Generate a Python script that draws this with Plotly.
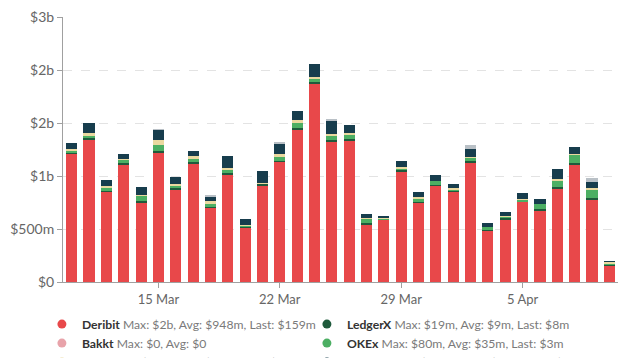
import plotly.graph_objects as go
import pandas as pd

dates = pd.date_range("2021-03-10", "2021-04-10", freq="D")

deribit = [1.208, 1.346, 0.852, 1.104, 0.748, 1.220, 0.874, 1.120, 0.704, 1.016,
           0.516, 0.915, 1.135, 1.434, 1.874, 1.330, 1.330, 0.544, 0.585, 1.040,
           0.748, 0.909, 0.852, 1.129, 0.484, 0.594, 0.758, 0.679, 0.884, 1.110,
           0.780, 0.159]
ledgerx = [0.010, 0.010, 0.008, 0.015, 0.015, 0.012, 0.010, 0.008, 0.008, 0.010,
           0.012, 0.012, 0.010, 0.015, 0.012, 0.010, 0.019, 0.008, 0.008, 0.018,
           0.008, 0.008, 0.008, 0.010, 0.008, 0.008, 0.006, 0.008, 0.010, 0.009,
           0.009, 0.008]
okex = [0.025, 0.025, 0.025, 0.035, 0.050, 0.065, 0.030, 0.040, 0.025, 0.032,
        0.004, 0.005, 0.035, 0.055, 0.035, 0.037, 0.044, 0.050, 0.008, 0.010,
        0.028, 0.036, 0.015, 0.035, 0.028, 0.020, 0.012, 0.050, 0.055, 0.080,
        0.079, 0.003]
cme = [0.015, 0.025, 0.020, 0.005, 0.005, 0.040, 0.012, 0.018, 0.028, 0.020,
       0.003, 0.003, 0.025, 0.020, 0.015, 0.022, 0.013, 0.003, 0.002, 0.013,
       0.016, 0.004, 0.010, 0.008, 0.002, 0.002, 0.008, 0.003, 0.025, 0.004,
       0.022, 0.019]
bitcom = [0.050, 0.094, 0.057, 0.050, 0.080, 0.100, 0.060, 0.050, 0.044, 0.107,
          0.063, 0.110, 0.100, 0.085, 0.116, 0.120, 0.075, 0.035, 0.019, 0.060,
          0.050, 0.057, 0.044, 0.072, 0.038, 0.038, 0.053, 0.047, 0.090, 0.066,
          0.057, 0.007]
other = [0, 0, 0, 0, 0, 0.005, 0, 0, 0.012, 0,
         0, 0, 0.012, 0, 0, 0.022, 0, 0, 0, 0,
         0, 0, 0, 0.038, 0, 0, 0, 0, 0, 0,
         0.030, 0]
bakkt = [0] * 32

series = [
    ("Deribit", deribit, "#e8484a", "Max: $2b, Avg: $948m, Last: $159m", 1),
    ("Bakkt", bakkt, "#e8a3aa", "Max: $0, Avg: $0", 3),
    ("LedgerX", ledgerx, "#1f5a3c", "Max: $19m, Avg: $9m, Last: $8m", 2),
    ("OKEx", okex, "#4caf63", "Max: $80m, Avg: $35m, Last: $3m", 4),
    ("CME", cme, "#ead9a0", "Max: $41m, Avg: $15m, Last: $19m", 5),
    ("bit.com", bitcom, "#173d4d", "Max: $120m, Avg: $64m, Last: $7m", 6),
]

ytickvals = [0, 0.5, 1.0, 1.5, 2.0, 2.5]
yticktext = ["$0", "$500m", "$1b", "$2b", "$2b", "$3b"]
xtickvals = ["2021-03-15", "2021-03-22", "2021-03-29", "2021-04-05"]

fig = go.Figure()
for name, vals, color, stats, rank in series:
    fig.add_trace(go.Bar(x=dates, y=vals, name=name, marker_color=color,
                         marker_line_width=0, showlegend=False))
fig.add_trace(go.Bar(x=dates, y=other, name="Other", marker_color="#b9c0c6",
                     marker_line_width=0, showlegend=False))

for name, vals, color, stats, rank in series:
    fig.add_trace(go.Scatter(
        x=[None], y=[None], mode="markers",
        marker=dict(symbol="circle", size=9, color=color),
        name=f"<b>{name}</b> <span style='color:#7a7a7a'>{stats}</span>",
        legendrank=rank, showlegend=True))

fig.update_layout(
    width=628, height=358,
    barmode="stack", bargap=0.36,
    plot_bgcolor="white", paper_bgcolor="white",
    margin=dict(l=55, r=18, t=9, b=84, autoexpand=False),
    font=dict(family="Lato", color="#666666", size=13),
    legend=dict(orientation="h", x=-0.038, xanchor="left", y=-0.104, yanchor="top",
                entrywidth=220, entrywidthmode="pixels", traceorder="normal",
                font=dict(size=12.2, color="#333333"),
                bgcolor="rgba(0,0,0,0)", tracegroupgap=0, maxheight=200),
)
fig.update_xaxes(
    range=["2021-03-09 12:00", "2021-04-10 12:00"],
    tickvals=xtickvals, tickformat="%-d %b",
    showline=True, linecolor="#a0a0a0", linewidth=1,
    ticks="outside", ticklen=5, tickcolor="#a0a0a0",
    showgrid=False, tickfont=dict(size=13, color="#666666"),
    ticklabeloverflow="allow",
)
fig.update_yaxes(
    range=[0, 2.5], tickvals=ytickvals, ticktext=yticktext,
    showline=True, linecolor="#a0a0a0", linewidth=1,
    ticks="outside", ticklen=5, tickcolor="#a0a0a0",
    showgrid=True, gridcolor="#e3e3e3", griddash="dash", gridwidth=1,
    zeroline=False, tickfont=dict(size=14, color="#666666"),
    ticklabeloverflow="allow",
)

fig.write_html("out.html")
